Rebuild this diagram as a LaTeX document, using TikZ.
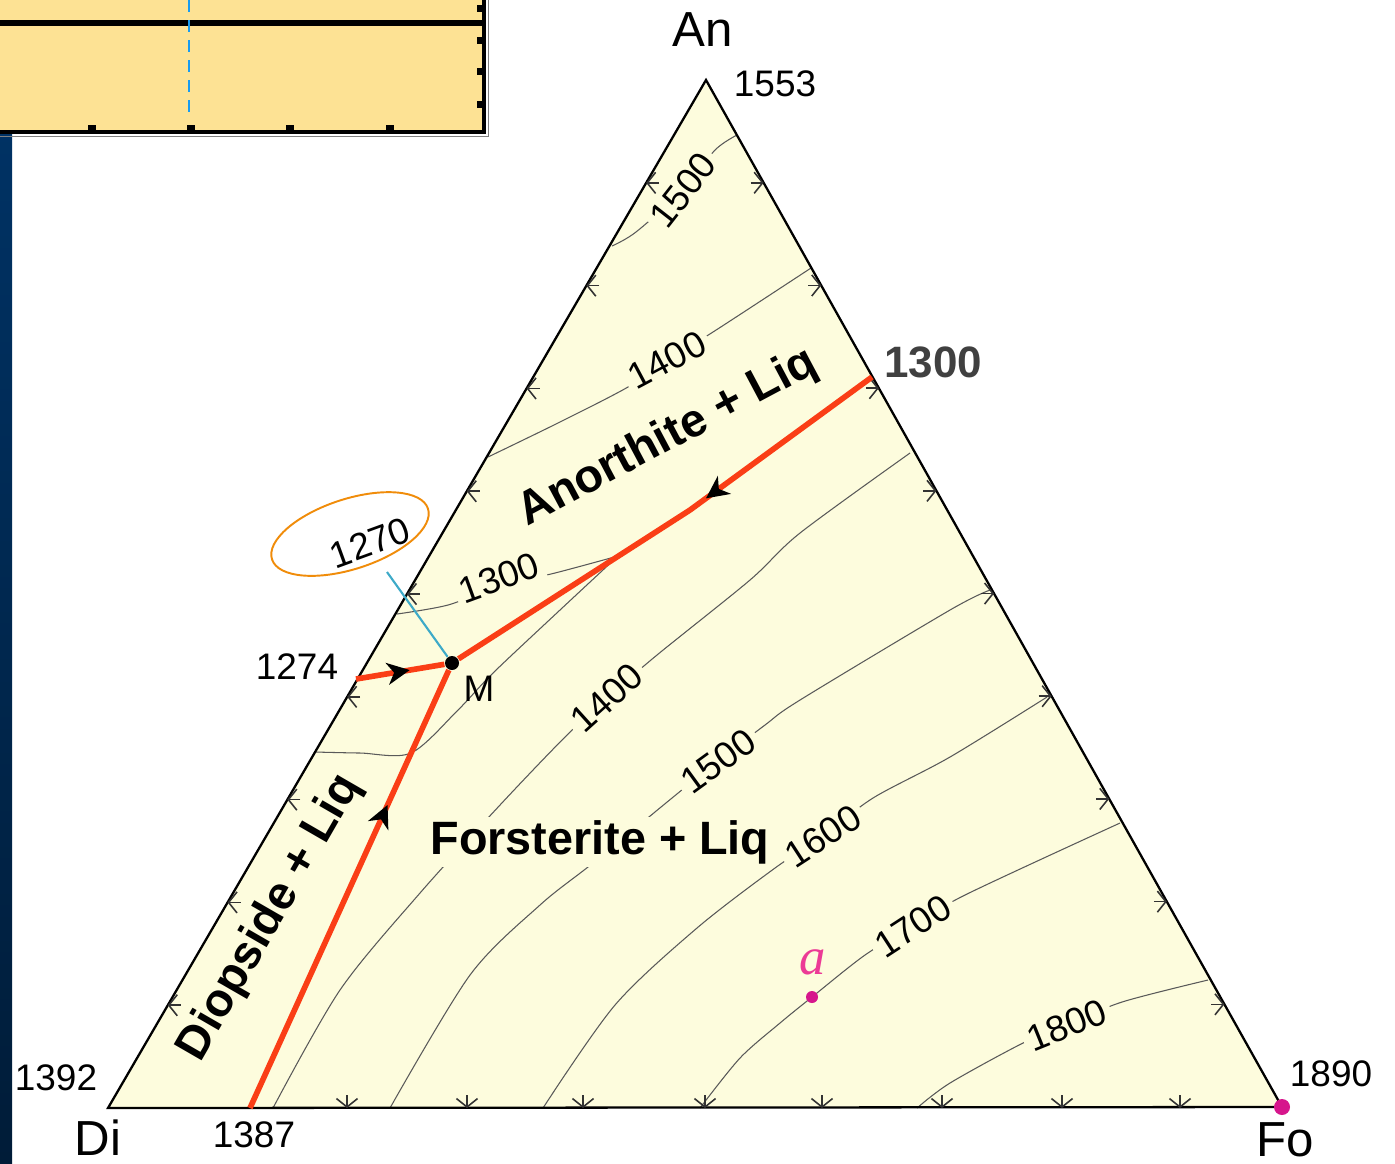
\documentclass[tikz,border=0pt]{standalone}
\usepackage{fontspec}
\setmainfont{Liberation Sans}
\newfontfamily\serifit{Liberation Serif}
\usetikzlibrary{calc, arrows.meta, decorations.markings}

\definecolor{trifill}{RGB}{253,252,221}
\definecolor{boxfill}{RGB}{253,226,148}
\definecolor{cotred}{RGB}{250,62,22}
\definecolor{pinkdot}{RGB}{214,22,140}
\definecolor{pinka}{RGB}{236,58,150}
\definecolor{cyanline}{RGB}{62,170,200}
\definecolor{dashblue}{RGB}{24,156,240}
\definecolor{ringorange}{RGB}{240,140,10}
\definecolor{stripblue}{RGB}{0,50,100}
\definecolor{stripdark}{RGB}{0,28,56}

\tikzstyle{isotherm} = [draw=black!65, line width=0.3pt]
\tikzstyle{cotectic} = [draw=cotred, line width=1.6pt]
\tikzstyle{edgetick} = [
    draw=black!80,
    line width=0.45pt,
    -{Straight Barb[length=2.4pt, width=6pt]}
]
\tikzstyle{cornerlabel} = [font=\fontsize{14}{16}\selectfont]
\tikzstyle{meltlabel} = [font=\fontsize{10.5}{12}\selectfont]
\tikzstyle{templabel} = [
    fill=trifill,
    inner sep=1.5pt,
    font=\fontsize{10.5}{12}\selectfont
]
\tikzstyle{fieldlabel} = [
    fill=trifill,
    inner sep=1pt,
    font=\bfseries\fontsize{13.3}{15}\selectfont
]
\tikzstyle{eutectic} = [circle, fill=black, inner sep=0pt, minimum size=0.14cm]
\tikzstyle{pointdot} = [circle, fill=pinkdot, inner sep=0pt, minimum size=0.12cm]
\tikzset{flow/.style={
    postaction={decorate},
    decoration={markings, mark=at position #1 with
        {\fill[black] (3pt,0) -- (-3.5pt,3.2pt) -- (-1.5pt,0) -- (-3.5pt,-3.2pt) -- cycle;}}
}}

\begin{document}
\begin{tikzpicture}[x=0.01cm, y=-0.01cm]
\useasboundingbox (0,0) rectangle (1395,1163);

% side strip and inset box
\shade[top color=stripblue, bottom color=stripdark] (0,130) rectangle (12,1163);
\fill[boxfill] (0,0) rectangle (484,132);
\draw[black!50, line width=0.5pt] (0,136.5) -- (488.5,136.5) -- (488.5,0);
\draw[black, line width=0.9pt] (0,132) -- (484,132) -- (484,0);
\draw[black, line width=1.9pt] (0,23) -- (484,23);
\draw[dashblue, line width=0.8pt, dash pattern=on 3.4pt off 2.3pt] (189,0) -- (189,112);
\foreach \x in {92,191,290,390}
    \fill (\x-4,125) rectangle (\x+4,133);
\foreach \y in {8,40,71,104}
    \fill (477,\y-3.5) rectangle (484,\y+3.5);

% triangle
\coordinate (Di) at (108,1108);
\coordinate (Fo) at (1282,1107);
\coordinate (An) at (706,80);
\fill[trifill] (Di) -- (Fo) -- (An) -- cycle;

% isotherms
\draw[isotherm] plot[smooth] coordinates {(612,246) (636,232) (683,190) (715,150) (737,135)};
\draw[isotherm] plot[smooth] coordinates {(488,457) (560,422) (628,387) (667,360) (713,332) (811,268)};
\draw[isotherm] plot[smooth] coordinates {(397,614) (448,605) (499,586) (555,573) (618,556)};
\draw[isotherm] plot[smooth] coordinates {(618,556) (560,610) (493,673) (458,710) (411,753) (360,753) (315,752)};
\draw[isotherm] plot[smooth] coordinates {(273,1108) (340,990) (420,893) (500,805) (565,737) (607,698) (657,655) (750,580) (800,533) (910,453)};
\draw[isotherm] plot[smooth] coordinates {(390,1108) (470,975) (540,905) (593,863) (672,798) (718,761) (765,725) (800,700) (950,610) (990,590)};
\draw[isotherm] plot[smooth] coordinates {(543,1108) (615,1005) (697,928) (775,868) (823,836) (873,798) (950,757) (1047,697)};
\draw[isotherm] plot[smooth] coordinates {(700,1108) (740,1058) (780,1023) (812,997) (865,955) (913,926) (965,895) (1120,823)};
\draw[isotherm] plot[smooth] coordinates {(917,1108) (950,1083) (1023,1043) (1067,1025) (1122,1002) (1208,980)};

\node[templabel, rotate=52] (i1500a) at (683,190) {1500};
\node[templabel, rotate=28] (i1400a) at (667,360) {1400};
\node[templabel, rotate=20] (i1300a) at (499,578) {1300};
\node[templabel, rotate=42] (i1400b) at (607,698) {1400};
\node[templabel, rotate=36] (i1500b) at (718,761) {1500};
\node[templabel, rotate=33] (i1600) at (823,836) {1600};
\node[templabel, rotate=33] (i1700) at (913,926) {1700};
\node[templabel, rotate=22] (i1800) at (1067,1025) {1800};

% phase fields
\node[fieldlabel, rotate=28] (fAn) at (668,438) {Anorthite + Liq};
\node[fieldlabel] (fFo) at (600,842) {Forsterite + Liq};
\node[fieldlabel, rotate=60] (fDi) at (270,918) {Diopside + Liq};

\draw[black, line width=0.65pt] (Di) -- (Fo) -- (An) -- cycle;

% ticks along the edges
\foreach \t in {0.1,0.2,...,0.9} {
    \draw[edgetick] ($(Di)!\t!(An)+(13,0)$) -- ($(Di)!\t!(An)$);
    \draw[edgetick] ($(Fo)!\t!(An)+(-13,0)$) -- ($(Fo)!\t!(An)$);
}
\foreach \x in {347,467,583,705,822,942,1062,1180}
    \draw[edgetick] (\x,1095) -- (\x,1108);

% cotectics
\node[eutectic] (M) at (452,663) {};
\coordinate (P1300) at (872,377);
\coordinate (kink) at (690,510);
\coordinate (P1274) at (356,679);
\coordinate (P1387) at (250,1108);
\coordinate (ptr) at (387,572);
\draw[cyanline, line width=0.6pt] (ptr) -- (M);
\draw[cotectic, flow=0.39] (P1300) -- (kink) -- (M);
\draw[cotectic, flow=0.49] (P1274) -- (M);
\draw[cotectic, flow=0.67] (P1387) -- (M);

\node[pointdot, minimum size=0.16cm] (foDot) at (Fo) {};
\node[pointdot] (pa) at (812,997) {};

% labels
\node[cornerlabel] (lblAn) at (703,30) {An};
\node[cornerlabel] (lblDi) at (98,1138) {Di};
\node[cornerlabel] (lblFo) at (1285,1140) {Fo};
\node[meltlabel] (t1553) at (775,84) {1553};
\node[meltlabel] (t1392) at (56,1078) {1392};
\node[meltlabel] (t1387) at (254,1135) {1387};
\node[meltlabel] (t1890) at (1331,1074) {1890};
\node[meltlabel] (t1274) at (297,667) {1274};
\node[meltlabel] (lblM) at (479,689) {M};
\node[meltlabel, rotate=20] (t1270) at (370,543) {1270};
\draw[ringorange, line width=0.55pt, rotate around={18:(350,534)}] (350,534) ellipse (82 and 35);
\node[font=\bfseries\fontsize{12.5}{14}\selectfont, text=black!75] (t1300) at (933,362) {1300};
\node[font=\serifit\itshape\fontsize{15}{17}\selectfont, text=pinka] (lbla) at (813,962) {a};

\end{tikzpicture}
\end{document}
